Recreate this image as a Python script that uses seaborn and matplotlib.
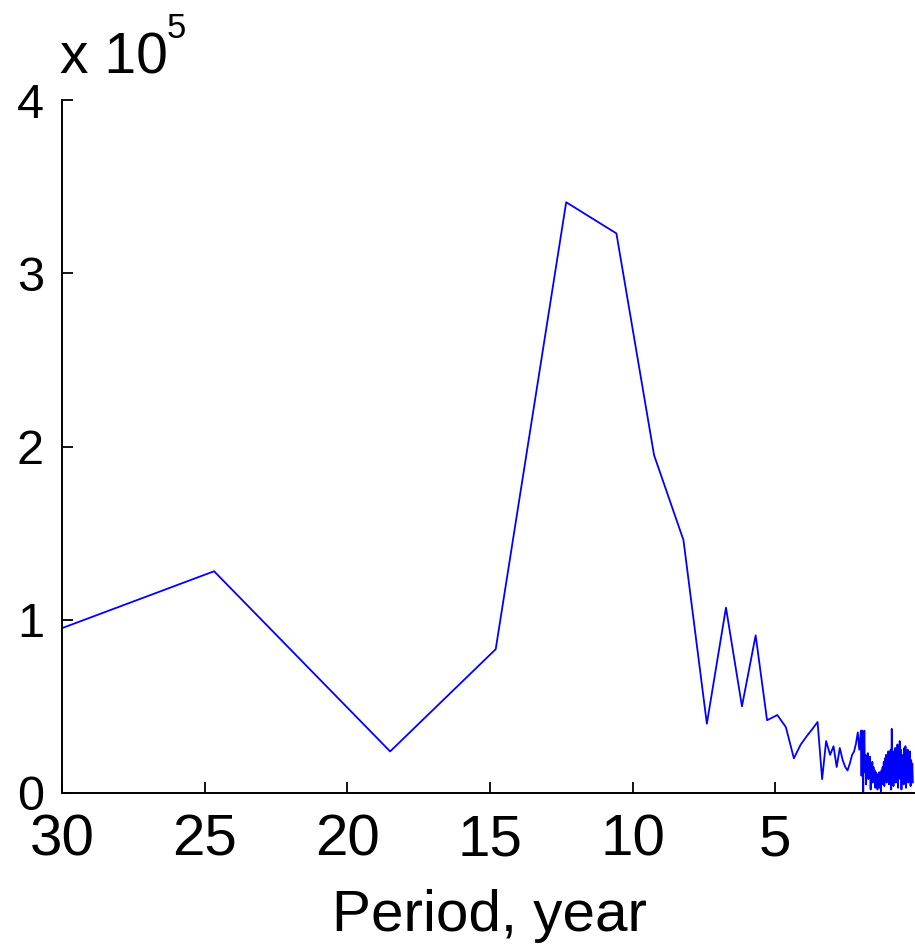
import matplotlib
matplotlib.use("Agg")
import matplotlib.pyplot as plt
import seaborn as sns
import pandas as pd

# Periodogram: period (years) and spectral power (in units of 1e5)
sparse_period = [37.0, 24.67, 18.5, 14.8, 12.33, 10.57, 9.25, 8.22, 7.4, 6.73,
                 6.17, 5.69, 5.29, 4.93, 4.63, 4.35, 4.11, 3.89, 3.70, 3.52,
                 3.36, 3.22, 3.08, 2.96, 2.85, 2.74, 2.64, 2.55, 2.47, 2.39,
                 2.31, 2.24, 2.18, 2.11, 2.06, 2.00]
sparse_power = [0.52, 1.28, 0.24, 0.83, 3.41, 3.23, 1.95, 1.46, 0.40, 1.07,
                0.50, 0.91, 0.42, 0.45, 0.38, 0.20, 0.28, 0.33, 0.37, 0.41,
                0.08, 0.30, 0.22, 0.27, 0.15, 0.26, 0.19, 0.15, 0.13, 0.17,
                0.22, 0.24, 0.28, 0.35, 0.25, 0.36]

dense_period = [1.98, 1.96, 1.94, 1.92, 1.90, 1.88, 1.86, 1.84, 1.82, 1.80,
                1.78, 1.76, 1.74, 1.72, 1.70, 1.68, 1.66, 1.64, 1.62, 1.60,
                1.58, 1.56, 1.54, 1.52, 1.50, 1.48, 1.46, 1.44, 1.42, 1.40,
                1.38, 1.36, 1.34, 1.32, 1.30, 1.28, 1.26, 1.24, 1.22, 1.20,
                1.18, 1.16, 1.14, 1.12, 1.10, 1.08, 1.06, 1.04, 1.02, 1.00,
                0.98, 0.96, 0.94, 0.92, 0.90, 0.88, 0.86, 0.84, 0.82, 0.80,
                0.78, 0.76, 0.74, 0.72, 0.70, 0.68, 0.66, 0.64, 0.62, 0.60,
                0.58, 0.56, 0.54, 0.52, 0.50, 0.48, 0.46, 0.44, 0.42, 0.40,
                0.38, 0.36, 0.34, 0.32, 0.30, 0.28, 0.26, 0.24, 0.22, 0.20,
                0.18]
dense_power = [0.10, 0.36, 0.30, 0.00, 0.25, 0.36, 0.12, 0.22, 0.05, 0.20,
               0.14, 0.23, 0.08, 0.19, 0.12, 0.21, 0.02, 0.17, 0.10, 0.18,
               0.06, 0.15, 0.09, 0.13, 0.03, 0.12, 0.06, 0.11, 0.02, 0.10,
               0.05, 0.12, 0.03, 0.08, 0.01, 0.13, 0.05, 0.15, 0.08, 0.18,
               0.04, 0.20, 0.10, 0.22, 0.06, 0.19, 0.12, 0.24, 0.05, 0.21,
               0.14, 0.25, 0.02, 0.37, 0.10, 0.22, 0.04, 0.24, 0.12, 0.26,
               0.06, 0.21, 0.13, 0.28, 0.03, 0.24, 0.15, 0.30, 0.08, 0.25,
               0.02, 0.22, 0.12, 0.20, 0.05, 0.26, 0.10, 0.27, 0.03, 0.23,
               0.14, 0.25, 0.06, 0.21, 0.12, 0.24, 0.04, 0.19, 0.09, 0.17,
               0.06]

x_ticks = [30, 25, 20, 15, 10, 5]
y_ticks = [0, 1, 2, 3, 4]
x_label = "Period, year"
scale_exp = "5"

df = pd.DataFrame({
    "period": sparse_period + dense_period,
    "power": [v * 1e5 for v in sparse_power + dense_power],
})

sns.set_style("ticks")
plt.rcParams["font.family"] = ["Liberation Sans", "DejaVu Sans"]
plt.rcParams["text.color"] = "black"
plt.rcParams["xtick.color"] = "black"
plt.rcParams["ytick.color"] = "black"
plt.rcParams["axes.labelcolor"] = "black"

fig = plt.figure(figsize=(9.15, 9.44), dpi=100)
ax = fig.add_axes([62 / 915, 151 / 944, 856 / 915, 693 / 944])

sns.lineplot(data=df, x="period", y="power", sort=False, estimator=None,
             color="#0000ff", linewidth=1.3, ax=ax)

ax.set_xlim(30, 0)
ax.set_ylim(0, 4e5)
ax.set_xticks(x_ticks)
ax.set_xticklabels([str(t) for t in x_ticks])
ax.set_yticks([t * 1e5 for t in y_ticks])
ax.set_yticklabels([str(t) for t in y_ticks])
ax.set_xlabel(x_label, fontsize=42, labelpad=15, color="black")
ax.set_ylabel("")

ax.tick_params(axis="x", direction="in", length=8, width=1.3, labelsize=42,
               pad=15, colors="black")
ax.tick_params(axis="y", direction="in", length=8, width=1.3, labelsize=35,
               pad=13, colors="black")
for s in ["top", "right"]:
    ax.spines[s].set_visible(False)
for s in ["left", "bottom"]:
    ax.spines[s].set_linewidth(1.4)
    ax.spines[s].set_color("black")

fig.text(60 / 915, 1 - 73 / 944, "x 10", fontsize=41, va="baseline", ha="left",
         color="black")
fig.text(167 / 915, 1 - 38 / 944, scale_exp, fontsize=25, va="baseline",
         ha="left", color="black")

fig.savefig("out.png", dpi=100, facecolor="white")
